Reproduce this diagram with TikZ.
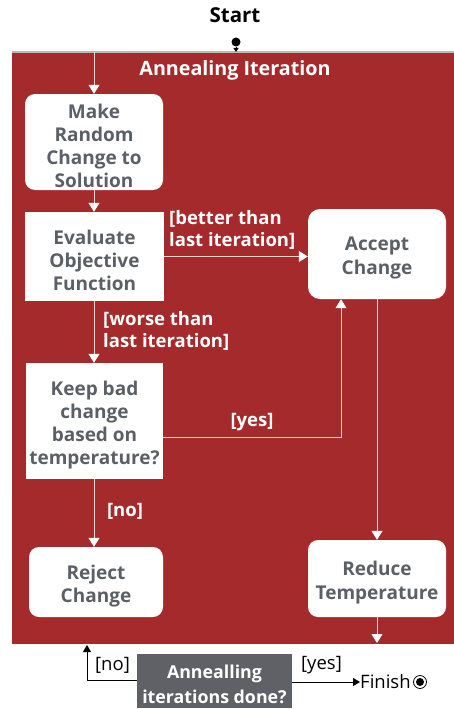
\documentclass[tikz,border=0pt]{standalone}
\usepackage{fontspec}
\setmainfont{Open Sans}
\usetikzlibrary{arrows.meta}
\definecolor{brick}{HTML}{A52A2C}
\definecolor{boxtext}{HTML}{5B5F66}
\definecolor{darkbox}{HTML}{5F6166}
\definecolor{flow}{HTML}{F2D4D4}
\begin{document}
\begin{tikzpicture}[x=1pt,y=-1pt,
  card/.style={fill=white, inner sep=0pt},
  roundcard/.style={card, rounded corners=10pt},
  cardtext/.style={text=boxtext, font=\bfseries\fontsize{19}{23.2}\selectfont, align=center, inner sep=0pt, yshift=-4pt},
  flowline/.style={draw=flow, line width=1pt, -{Triangle[width=11pt,length=9pt,fill=white,color=white]}},
  blackline/.style={draw=black, line width=1pt, -{Triangle[width=8pt,length=7pt]}},
  guard/.style={text=white, font=\bfseries\fontsize{18.5}{22}\selectfont, inner sep=0pt, align=left},
  plain/.style={text=black, font=\fontsize{18.5}{20}\selectfont, inner sep=0pt},
]
\useasboundingbox (0,0) rectangle (454,709);

% swimlane of the annealing loop
\fill[brick] (12,52) rectangle (454,644);
\draw[gray!55, line width=1.2pt] (12,52) -- (454,52);
\node[text=white, font=\bfseries\fontsize{19.7}{22}\selectfont] (lane) at (235,70.5) {Annealing Iteration};

% start
\node[font=\bfseries\fontsize{20.5}{22}\selectfont, inner sep=0pt] (start) at (235,15) {Start};
\node[circle, fill=black, minimum size=9pt, inner sep=0pt] (startdot) at (236,42) {};
\coordinate (lanetop) at (236,52);
\draw[line width=0.8pt, -{Triangle[width=5pt,length=4pt]}] (startdot) -- (lanetop);

% activity boxes
\node[roundcard, minimum width=138pt, minimum height=96pt] (mk) at (94,142) {};
\node[cardtext] (mktext) at (mk) {Make\\Random\\Change to\\Solution};
\node[card, minimum width=139pt, minimum height=89pt] (ev) at (94.5,256.5) {};
\node[cardtext] (evtext) at (ev) {Evaluate\\Objective\\Function};
\node[roundcard, minimum width=138pt, minimum height=90pt, rounded corners=12pt] (ac) at (377,254) {};
\node[cardtext] (actext) at (ac) {Accept\\Change};
\node[card, minimum width=137pt, minimum height=116pt] (kp) at (94.5,421) {};
\node[cardtext] (kptext) at (kp) {Keep bad\\change\\based on\\temperature?};
\node[roundcard, minimum width=134pt, minimum height=70pt] (rj) at (96,582) {};
\node[cardtext] (rjtext) at (rj) {Reject\\Change};
\node[roundcard, minimum width=138pt, minimum height=77pt] (rd) at (377,578.5) {};
\node[cardtext] (rdtext) at (rd) {Reduce\\Temperature};

% flows inside the lane
\coordinate (entry) at (94,52);
\draw[flowline] (entry) -- (mk.north -| entry);
\draw[flowline] (mk.south -| entry) -- (ev.north -| entry);
\draw[flowline] (ev.east) -- (ev.east -| ac.west);
\node[guard, anchor=west] (better) at (169,230) {[better than\\last iteration]};
\draw[flowline] (ev.south -| entry) -- (kp.north -| entry);
\node[guard, anchor=west] (worse) at (103,331) {[worse than\\last iteration]};
\coordinate (yesturn) at (341,437);
\draw[flowline] (kp.east |- yesturn) -- (yesturn) -- (yesturn |- ac.south);
\node[guard] (yes) at (252,422) {[yes]};
\draw[flowline] (kp.south -| entry) -- (rj.north -| entry);
\node[guard] (no) at (125,511) {[no]};
\draw[flowline] (ac.south) -- (rd.north);
\coordinate (exit) at (377,643);
\draw[flowline] (rd.south) -- (exit);

% loop decision below the lane
\node[fill=darkbox, inner sep=0pt, minimum width=155pt, minimum height=54pt] (dn) at (214.5,681) {};
\node[text=white, font=\bfseries\fontsize{17.8}{25}\selectfont, align=center, inner sep=0pt, yshift=-3.5pt] (dntext) at (dn) {Annealling\\iterations done?};
\coordinate (reentry) at (87,645);
\draw[blackline] (dn.west |- 0,680) -| (reentry);
\node[plain] (loopno) at (112.5,665) {[no]};
\node[plain, anchor=west] (fin) at (360,682) {Finish};
\draw[blackline] (dn.east |- fin.west) -- (fin.west);
\node[plain] (loopyes) at (321.5,665) {[yes]};
\node[circle, draw=black, line width=0.8pt, minimum size=13pt, inner sep=0pt] (endring) at (420,682) {};
\node[circle, fill=black, minimum size=8pt, inner sep=0pt] (enddot) at (endring) {};
\end{tikzpicture}
\end{document}
